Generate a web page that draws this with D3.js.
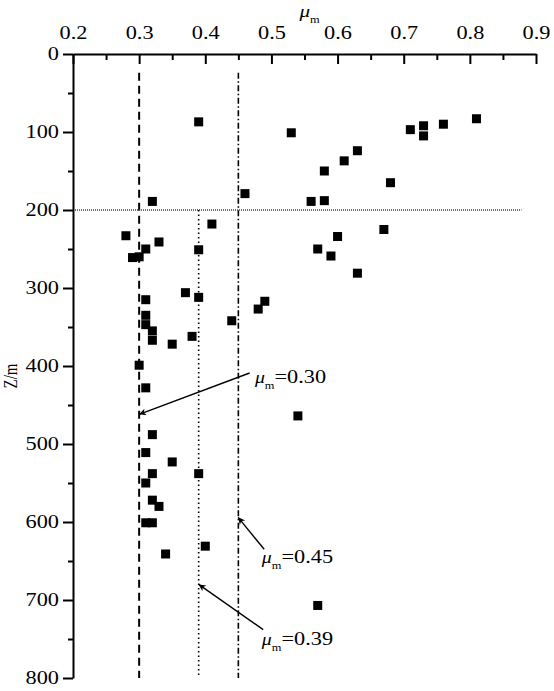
<!DOCTYPE html>
<html>
<head>
<meta charset="utf-8">
<script src="https://cdnjs.cloudflare.com/ajax/libs/d3/7.8.5/d3.min.js"></script>
<style>
  body { margin: 0; background: #fff; }
  svg text { font-family: "Liberation Serif", "Times New Roman", serif; fill: #000; }
</style>
</head>
<body>
<div id="chart-area"></div>
<script>
// measured values (mu_m vs depth Z)
var muValues = [0.39, 0.53, 0.71, 0.73, 0.73, 0.76, 0.81, 0.63, 0.61, 0.58,
                0.68, 0.46, 0.32, 0.56, 0.58, 0.41, 0.67, 0.28, 0.60, 0.33,
                0.31, 0.39, 0.57, 0.29, 0.30, 0.59, 0.63, 0.37, 0.39, 0.31,
                0.49, 0.48, 0.31, 0.44, 0.31, 0.32, 0.38, 0.32, 0.35, 0.30,
                0.31, 0.54, 0.32, 0.31, 0.35, 0.32, 0.39, 0.31, 0.32, 0.33,
                0.31, 0.32, 0.40, 0.34, 0.57];
var depthValues = [87, 101, 97, 92, 105, 90, 83, 124, 137, 150,
                   165, 179, 189, 189, 188, 218, 225, 233, 234, 241,
                   250, 251, 250, 261, 260, 259, 281, 306, 312, 315,
                   317, 327, 335, 342, 347, 355, 362, 367, 372, 399,
                   428, 464, 488, 511, 523, 538, 538, 550, 572, 580,
                   601, 601, 631, 641, 707];

var xTicks = [0.2, 0.3, 0.4, 0.5, 0.6, 0.7, 0.8, 0.9];
var xMinor = [0.25, 0.35, 0.45, 0.55, 0.65, 0.75, 0.85];
var yTicks = [0, 100, 200, 300, 400, 500, 600, 700, 800];
var yMinor = [50, 150, 250, 350, 450, 550, 650, 750];

// reference lines: mu value and the depth they start from
var refMu = [0.30, 0.39, 0.45];
var refStart = [24, 200, 24];
var boundaryDepth = 200;
var boundaryEnd = 0.878;

// annotations: label value, arrow tail -> tip, label anchor (data coords)
var annValues = ['0.30', '0.45', '0.39'];
var annTail = [[0.467, 409], [0.489, 635], [0.4875, 738]];
var annTip = [[0.30, 462], [0.4497, 594], [0.39, 680]];
var annLabel = [[0.475, 422], [0.4855, 652], [0.4855, 758]];

var margin = { top: 54, left: 73 },
    width = 463,
    height = 624,
    sx = 1.24; // horizontal stretch of the original lettering

var svg = d3.select('#chart-area').append('svg')
    .attr('width', 554)
    .attr('height', 691);

var defs = svg.append('defs');
defs.append('marker')
    .attr('id', 'arrow')
    .attr('viewBox', '0 0 10 10')
    .attr('refX', 10)
    .attr('refY', 5)
    .attr('markerWidth', 9)
    .attr('markerHeight', 7)
    .attr('markerUnits', 'userSpaceOnUse')
    .attr('orient', 'auto')
  .append('path')
    .attr('d', 'M0,0L10,5L0,10L3,5Z')
    .attr('fill', '#000');

var g = svg.append('g')
    .attr('transform', 'translate(' + margin.left + ',' + margin.top + ')');

var x = d3.scaleLinear().domain([0.2, 0.9]).range([0, width]);
var y = d3.scaleLinear().domain([0, 800]).range([0, height]);

// reference lines
var refDash = ['8,5', '1.5,3', '6,2.5,1.5,2.5'];
var refWidth = [2, 1.6, 1.6];
refMu.forEach(function(m, i) {
  g.append('line')
    .attr('x1', x(m)).attr('x2', x(m))
    .attr('y1', y(refStart[i])).attr('y2', y(800))
    .attr('stroke', '#000')
    .attr('stroke-width', refWidth[i])
    .attr('stroke-dasharray', refDash[i]);
});

g.append('line')
  .attr('x1', 0).attr('x2', x(boundaryEnd))
  .attr('y1', y(boundaryDepth)).attr('y2', y(boundaryDepth))
  .attr('stroke', '#444')
  .attr('stroke-width', 1.4)
  .attr('stroke-dasharray', '1,1');

// points
var points = muValues.map(function(m, i) { return { mu: m, z: depthValues[i] }; });
var sq = 9;
g.selectAll('rect.pt')
  .data(points)
  .enter().append('rect')
    .attr('class', 'pt')
    .attr('x', function(d) { return x(d.mu) - sq / 2; })
    .attr('y', function(d) { return y(d.z) - sq / 2; })
    .attr('width', sq)
    .attr('height', sq)
    .attr('fill', '#000');

// top axis
var xAxis = d3.axisTop(x)
  .tickValues(xTicks)
  .tickFormat(d3.format('.1f'))
  .tickSizeInner(-10)
  .tickSizeOuter(0)
  .tickPadding(15);
var xg = g.append('g').call(xAxis);
g.append('g').call(d3.axisTop(x).tickValues(xMinor).tickSizeInner(-6).tickSizeOuter(0).tickFormat(''))
  .select('.domain').remove();

// left axis
var yAxis = d3.axisLeft(y)
  .tickValues(yTicks)
  .tickSizeInner(10)
  .tickSizeOuter(0);
var yg = g.append('g').call(yAxis);
g.append('g').call(d3.axisLeft(y).tickValues(yMinor).tickSizeInner(5).tickSizeOuter(0).tickFormat(''))
  .select('.domain').remove();

g.selectAll('.domain, .tick line')
  .attr('stroke', '#000')
  .attr('stroke-width', 2);

xg.attr('font-family', null).attr('font-size', null);
yg.attr('font-family', null).attr('font-size', null);

xg.selectAll('text')
  .attr('font-size', '18px')
  .attr('transform', 'scale(' + sx + ',1)');
yg.selectAll('text')
  .attr('font-size', '18px')
  .attr('x', -14 / sx)
  .attr('transform', 'scale(' + sx + ',1)');

// axis titles
var xt = svg.append('text')
  .attr('transform', 'translate(' + (margin.left + width / 2 - 5) + ',17) scale(' + sx + ',1)');
xt.append('tspan').attr('font-size', '17px').attr('font-style', 'italic').text('μ');
xt.append('tspan').attr('font-size', '10px').attr('dy', 6).text('m');

svg.append('text')
  .attr('transform', 'translate(17,376) rotate(-90) scale(1,' + sx + ')')
  .attr('text-anchor', 'middle')
  .attr('font-size', '15px')
  .text('Z/m');

// annotations
annValues.forEach(function(v, i) {
  g.append('line')
    .attr('x1', x(annTail[i][0])).attr('y1', y(annTail[i][1]))
    .attr('x2', x(annTip[i][0])).attr('y2', y(annTip[i][1]))
    .attr('stroke', '#000')
    .attr('stroke-width', 1.4)
    .attr('marker-end', 'url(#arrow)');

  var t = g.append('text')
    .attr('transform', 'translate(' + x(annLabel[i][0]) + ',' + y(annLabel[i][1]) + ') scale(' + sx + ',1)')
    .attr('font-size', '18px');
  t.append('tspan').attr('font-style', 'italic').attr('font-size', '16px').text('μ');
  t.append('tspan').attr('font-size', '10px').attr('dy', 6).text('m');
  t.append('tspan').attr('dy', -6).text('=' + v);
});
</script>
</body>
</html>
